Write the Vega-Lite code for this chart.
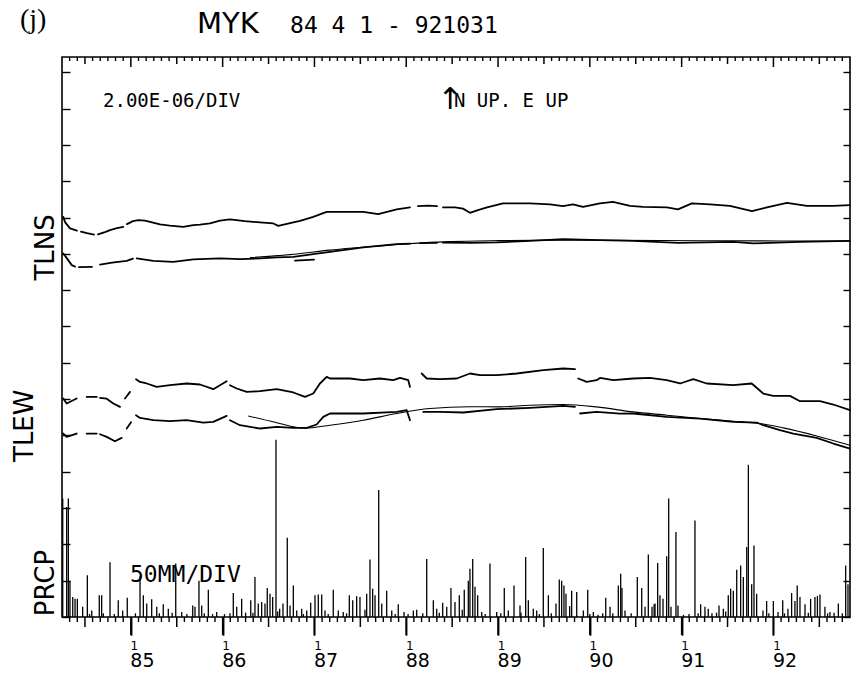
{
  "$schema": "https://vega.github.io/schema/vega-lite/v6.json",
  "width": 788,
  "height": 560,
  "autosize": {"type": "none"},
  "padding": {"left": 62, "top": 57, "right": 6, "bottom": 64},
  "background": "white",
  "config": {
    "view": {"stroke": "black", "strokeWidth": 1.6},
    "font": "DejaVu Sans",
    "axis": {"grid": false, "domain": false, "tickColor": "black", "labelColor": "black", "labelFont": "DejaVu Sans", "title": null, "tickWidth": 1.4}
  },
  "datasets": {
    "tilt": [
      {"seg":"ns1a","yr":1984.264,"v":11.019},{"seg":"ns1a","yr":1984.283,"v":10.873},{"seg":"ns1a","yr":1984.337,"v":10.700},{"seg":"ns1a","yr":1984.413,"v":10.639},
      {"seg":"ns1b","yr":1984.457,"v":10.611},{"seg":"ns1b","yr":1984.522,"v":10.570},{"seg":"ns1b","yr":1984.599,"v":10.529},
      {"seg":"ns1c","yr":1984.642,"v":10.534},{"seg":"ns1c","yr":1984.718,"v":10.598},{"seg":"ns1c","yr":1984.773,"v":10.653},{"seg":"ns1c","yr":1984.849,"v":10.708},{"seg":"ns1c","yr":1984.918,"v":10.744},
      {"seg":"ns1d","yr":1984.958,"v":10.818},{"seg":"ns1d","yr":1985.023,"v":10.901},{"seg":"ns1d","yr":1985.081,"v":10.928},{"seg":"ns1d","yr":1985.154,"v":10.914},{"seg":"ns1d","yr":1985.209,"v":10.881},{"seg":"ns1d","yr":1985.318,"v":10.810},{"seg":"ns1d","yr":1985.426,"v":10.777},{"seg":"ns1d","yr":1985.571,"v":10.744},{"seg":"ns1d","yr":1985.680,"v":10.791},{"seg":"ns1d","yr":1985.753,"v":10.804},{"seg":"ns1d","yr":1985.862,"v":10.837},{"seg":"ns1d","yr":1985.971,"v":10.914},{"seg":"ns1d","yr":1986.080,"v":10.948},{"seg":"ns1d","yr":1986.243,"v":10.901},{"seg":"ns1d","yr":1986.407,"v":10.865},{"seg":"ns1d","yr":1986.552,"v":10.837},{"seg":"ns1d","yr":1986.606,"v":10.771},{"seg":"ns1d","yr":1986.734,"v":10.846},{"seg":"ns1d","yr":1986.843,"v":10.909},{"seg":"ns1d","yr":1986.987,"v":11.019},{"seg":"ns1d","yr":1987.133,"v":11.157},{"seg":"ns1d","yr":1987.333,"v":11.157},{"seg":"ns1d","yr":1987.532,"v":11.157},{"seg":"ns1d","yr":1987.695,"v":11.093},{"seg":"ns1d","yr":1987.896,"v":11.223},{"seg":"ns1d","yr":1988.041,"v":11.278},
      {"seg":"ns1e","yr":1988.128,"v":11.314},{"seg":"ns1e","yr":1988.237,"v":11.328},{"seg":"ns1e","yr":1988.335,"v":11.314},
      {"seg":"ns1f","yr":1988.400,"v":11.278},{"seg":"ns1f","yr":1988.531,"v":11.278},{"seg":"ns1f","yr":1988.618,"v":11.245},{"seg":"ns1f","yr":1988.694,"v":11.129},{"seg":"ns1f","yr":1988.781,"v":11.204},{"seg":"ns1f","yr":1988.880,"v":11.278},{"seg":"ns1f","yr":1989.054,"v":11.388},{"seg":"ns1f","yr":1989.348,"v":11.388},{"seg":"ns1f","yr":1989.566,"v":11.361},{"seg":"ns1f","yr":1989.707,"v":11.314},{"seg":"ns1f","yr":1989.816,"v":11.361},{"seg":"ns1f","yr":1989.925,"v":11.295},{"seg":"ns1f","yr":1990.110,"v":11.388},{"seg":"ns1f","yr":1990.252,"v":11.432},{"seg":"ns1f","yr":1990.437,"v":11.322},{"seg":"ns1f","yr":1990.579,"v":11.295},{"seg":"ns1f","yr":1990.840,"v":11.278},{"seg":"ns1f","yr":1990.960,"v":11.223},{"seg":"ns1f","yr":1991.112,"v":11.388},{"seg":"ns1f","yr":1991.308,"v":11.361},{"seg":"ns1f","yr":1991.526,"v":11.322},{"seg":"ns1f","yr":1991.766,"v":11.176},{"seg":"ns1f","yr":1991.929,"v":11.278},{"seg":"ns1f","yr":1992.147,"v":11.405},{"seg":"ns1f","yr":1992.365,"v":11.322},{"seg":"ns1f","yr":1992.649,"v":11.322},{"seg":"ns1f","yr":1992.834,"v":11.341},

      {"seg":"ns2a","yr":1984.264,"v":10.011},{"seg":"ns2a","yr":1984.294,"v":9.909},{"seg":"ns2a","yr":1984.356,"v":9.689},{"seg":"ns2a","yr":1984.392,"v":9.647},
      {"seg":"ns2b","yr":1984.435,"v":9.634},{"seg":"ns2b","yr":1984.577,"v":9.642},
      {"seg":"ns2c","yr":1984.664,"v":9.702},{"seg":"ns2c","yr":1984.795,"v":9.758},{"seg":"ns2c","yr":1984.955,"v":9.807},{"seg":"ns2c","yr":1985.023,"v":9.868},
      {"seg":"ns2d","yr":1985.064,"v":9.873},{"seg":"ns2d","yr":1985.245,"v":9.807},{"seg":"ns2d","yr":1985.462,"v":9.780},{"seg":"ns2d","yr":1985.680,"v":9.846},{"seg":"ns2d","yr":1985.971,"v":9.873},{"seg":"ns2d","yr":1986.189,"v":9.854},{"seg":"ns2d","yr":1986.407,"v":9.873},{"seg":"ns2d","yr":1986.589,"v":9.901},{"seg":"ns2d","yr":1986.770,"v":9.917},{"seg":"ns2d","yr":1986.987,"v":9.992},{"seg":"ns2d","yr":1987.169,"v":10.055},{"seg":"ns2d","yr":1987.532,"v":10.176},{"seg":"ns2d","yr":1987.896,"v":10.267},{"seg":"ns2d","yr":1988.041,"v":10.281},
      {"seg":"ns2e","yr":1988.150,"v":10.295},{"seg":"ns2e","yr":1988.335,"v":10.303},
      {"seg":"ns2f","yr":1988.400,"v":10.308},{"seg":"ns2f","yr":1988.694,"v":10.303},{"seg":"ns2f","yr":1988.985,"v":10.314},{"seg":"ns2f","yr":1989.348,"v":10.358},{"seg":"ns2f","yr":1989.711,"v":10.405},{"seg":"ns2f","yr":1990.110,"v":10.377},{"seg":"ns2f","yr":1990.473,"v":10.358},{"seg":"ns2f","yr":1990.963,"v":10.303},{"seg":"ns2f","yr":1991.562,"v":10.331},{"seg":"ns2f","yr":1991.780,"v":10.286},{"seg":"ns2f","yr":1992.289,"v":10.331},{"seg":"ns2f","yr":1992.834,"v":10.358},
      {"seg":"ns2g","yr":1986.789,"v":9.813},{"seg":"ns2g","yr":1986.996,"v":9.840},

      {"seg":"ew1a","yr":1984.264,"v":6.016},{"seg":"ew1a","yr":1984.301,"v":5.879},{"seg":"ew1a","yr":1984.410,"v":6.016},
      {"seg":"ew1b","yr":1984.519,"v":6.061},{"seg":"ew1b","yr":1984.628,"v":6.061},
      {"seg":"ew1c","yr":1984.664,"v":6.033},{"seg":"ew1c","yr":1984.737,"v":6.011},{"seg":"ew1c","yr":1984.809,"v":5.879},{"seg":"ew1c","yr":1984.882,"v":5.785},
      {"seg":"ew1d","yr":1984.936,"v":6.016},{"seg":"ew1d","yr":1984.991,"v":6.198},
      {"seg":"ew1e","yr":1985.056,"v":6.548},{"seg":"ew1e","yr":1985.100,"v":6.474},{"seg":"ew1e","yr":1985.173,"v":6.430},{"seg":"ew1e","yr":1985.282,"v":6.336},{"seg":"ew1e","yr":1985.426,"v":6.383},{"seg":"ew1e","yr":1985.608,"v":6.430},{"seg":"ew1e","yr":1985.753,"v":6.402},{"seg":"ew1e","yr":1985.898,"v":6.273},{"seg":"ew1e","yr":1986.044,"v":6.493},
      {"seg":"ew1f","yr":1986.080,"v":6.383},{"seg":"ew1f","yr":1986.153,"v":6.292},{"seg":"ew1f","yr":1986.262,"v":6.198},{"seg":"ew1f","yr":1986.407,"v":6.218},{"seg":"ew1f","yr":1986.589,"v":6.273},{"seg":"ew1f","yr":1986.770,"v":6.182},{"seg":"ew1f","yr":1986.897,"v":6.061},{"seg":"ew1f","yr":1986.987,"v":6.154},{"seg":"ew1f","yr":1987.060,"v":6.430},{"seg":"ew1f","yr":1987.133,"v":6.612},{"seg":"ew1f","yr":1987.169,"v":6.567},{"seg":"ew1f","yr":1987.387,"v":6.567},{"seg":"ew1f","yr":1987.532,"v":6.521},{"seg":"ew1f","yr":1987.714,"v":6.567},{"seg":"ew1f","yr":1987.859,"v":6.521},{"seg":"ew1f","yr":1987.932,"v":6.584},{"seg":"ew1f","yr":1988.022,"v":6.521},{"seg":"ew1f","yr":1988.041,"v":6.336},
      {"seg":"ew1g","yr":1988.168,"v":6.705},{"seg":"ew1g","yr":1988.223,"v":6.567},{"seg":"ew1g","yr":1988.368,"v":6.548},{"seg":"ew1g","yr":1988.550,"v":6.567},{"seg":"ew1g","yr":1988.694,"v":6.705},{"seg":"ew1g","yr":1988.803,"v":6.658},{"seg":"ew1g","yr":1988.985,"v":6.658},{"seg":"ew1g","yr":1989.203,"v":6.705},{"seg":"ew1g","yr":1989.493,"v":6.796},{"seg":"ew1g","yr":1989.711,"v":6.843},{"seg":"ew1g","yr":1989.838,"v":6.824},
      {"seg":"ew1h","yr":1989.874,"v":6.567},{"seg":"ew1h","yr":1989.966,"v":6.474},{"seg":"ew1h","yr":1990.074,"v":6.521},{"seg":"ew1h","yr":1990.110,"v":6.584},{"seg":"ew1h","yr":1990.255,"v":6.521},{"seg":"ew1h","yr":1990.473,"v":6.567},{"seg":"ew1h","yr":1990.655,"v":6.584},{"seg":"ew1h","yr":1990.837,"v":6.521},{"seg":"ew1h","yr":1990.983,"v":6.430},{"seg":"ew1h","yr":1991.127,"v":6.548},{"seg":"ew1h","yr":1991.273,"v":6.430},{"seg":"ew1h","yr":1991.562,"v":6.383},{"seg":"ew1h","yr":1991.763,"v":6.430},{"seg":"ew1h","yr":1991.889,"v":6.154},{"seg":"ew1h","yr":1991.998,"v":6.088},{"seg":"ew1h","yr":1992.180,"v":6.088},{"seg":"ew1h","yr":1992.289,"v":5.942},{"seg":"ew1h","yr":1992.507,"v":5.942},{"seg":"ew1h","yr":1992.652,"v":5.851},{"seg":"ew1h","yr":1992.834,"v":5.694},

      {"seg":"ew2a","yr":1984.264,"v":5.052},{"seg":"ew2a","yr":1984.301,"v":4.959},{"seg":"ew2a","yr":1984.410,"v":5.052},
      {"seg":"ew2b","yr":1984.519,"v":5.052},{"seg":"ew2b","yr":1984.628,"v":5.052},
      {"seg":"ew2c","yr":1984.664,"v":5.033},{"seg":"ew2c","yr":1984.737,"v":4.959},{"seg":"ew2c","yr":1984.827,"v":4.840},{"seg":"ew2c","yr":1984.900,"v":4.931},
      {"seg":"ew2d","yr":1984.955,"v":5.190},{"seg":"ew2d","yr":1985.002,"v":5.364},
      {"seg":"ew2e","yr":1985.056,"v":5.556},{"seg":"ew2e","yr":1985.100,"v":5.482},{"seg":"ew2e","yr":1985.245,"v":5.419},{"seg":"ew2e","yr":1985.426,"v":5.391},{"seg":"ew2e","yr":1985.608,"v":5.419},{"seg":"ew2e","yr":1985.789,"v":5.355},{"seg":"ew2e","yr":1985.898,"v":5.372},{"seg":"ew2e","yr":1986.044,"v":5.537},
      {"seg":"ew2f","yr":1986.080,"v":5.419},{"seg":"ew2f","yr":1986.189,"v":5.281},{"seg":"ew2f","yr":1986.407,"v":5.190},{"seg":"ew2f","yr":1986.589,"v":5.234},{"seg":"ew2f","yr":1986.770,"v":5.207},{"seg":"ew2f","yr":1986.916,"v":5.207},{"seg":"ew2f","yr":1987.024,"v":5.300},{"seg":"ew2f","yr":1987.096,"v":5.510},{"seg":"ew2f","yr":1987.169,"v":5.603},{"seg":"ew2f","yr":1987.532,"v":5.603},{"seg":"ew2f","yr":1987.896,"v":5.647},{"seg":"ew2f","yr":1988.005,"v":5.694},{"seg":"ew2f","yr":1988.041,"v":5.419},
      {"seg":"ew2g","yr":1988.186,"v":5.647},{"seg":"ew2g","yr":1988.368,"v":5.647},{"seg":"ew2g","yr":1988.622,"v":5.631},{"seg":"ew2g","yr":1988.985,"v":5.722},{"seg":"ew2g","yr":1989.348,"v":5.758},{"seg":"ew2g","yr":1989.711,"v":5.813},{"seg":"ew2g","yr":1989.838,"v":5.785},
      {"seg":"ew2h","yr":1989.893,"v":5.603},{"seg":"ew2h","yr":1990.074,"v":5.647},{"seg":"ew2h","yr":1990.328,"v":5.598},{"seg":"ew2h","yr":1990.473,"v":5.603},{"seg":"ew2h","yr":1990.837,"v":5.510},{"seg":"ew2h","yr":1991.200,"v":5.465},{"seg":"ew2h","yr":1991.562,"v":5.372},{"seg":"ew2h","yr":1991.817,"v":5.355},{"seg":"ew2h","yr":1991.889,"v":5.281},{"seg":"ew2h","yr":1992.071,"v":5.143},{"seg":"ew2h","yr":1992.216,"v":5.052},{"seg":"ew2h","yr":1992.471,"v":4.931},{"seg":"ew2h","yr":1992.652,"v":4.777},{"seg":"ew2h","yr":1992.834,"v":4.639}
    ],
    "fit": [
      {"seg":"nsfit","yr":1986.298,"v":9.895},{"seg":"nsfit","yr":1986.734,"v":9.978},{"seg":"nsfit","yr":1987.169,"v":10.102},{"seg":"nsfit","yr":1987.605,"v":10.198},{"seg":"nsfit","yr":1988.041,"v":10.281},{"seg":"nsfit","yr":1988.477,"v":10.336},{"seg":"nsfit","yr":1989.021,"v":10.363},{"seg":"nsfit","yr":1989.675,"v":10.377},{"seg":"nsfit","yr":1990.328,"v":10.372},{"seg":"nsfit","yr":1991.200,"v":10.361},{"seg":"nsfit","yr":1992.071,"v":10.355},{"seg":"nsfit","yr":1992.834,"v":10.355},
      {"seg":"ewfit","yr":1986.279,"v":5.537},{"seg":"ewfit","yr":1986.570,"v":5.364},{"seg":"ewfit","yr":1986.897,"v":5.198},{"seg":"ewfit","yr":1987.169,"v":5.281},{"seg":"ewfit","yr":1987.532,"v":5.419},{"seg":"ewfit","yr":1987.896,"v":5.603},{"seg":"ewfit","yr":1988.259,"v":5.741},{"seg":"ewfit","yr":1988.694,"v":5.791},{"seg":"ewfit","yr":1989.021,"v":5.785},{"seg":"ewfit","yr":1989.348,"v":5.832},{"seg":"ewfit","yr":1989.711,"v":5.851},{"seg":"ewfit","yr":1990.074,"v":5.785},{"seg":"ewfit","yr":1990.473,"v":5.647},{"seg":"ewfit","yr":1990.837,"v":5.556},{"seg":"ewfit","yr":1991.200,"v":5.465},{"seg":"ewfit","yr":1991.562,"v":5.391},{"seg":"ewfit","yr":1991.853,"v":5.328},{"seg":"ewfit","yr":1992.107,"v":5.207},{"seg":"ewfit","yr":1992.471,"v":4.986},{"seg":"ewfit","yr":1992.834,"v":4.730}
    ],
    "prcp": [
      {"yr":1984.258,"p":3.26},{"yr":1984.301,"p":3.03},{"yr":1984.319,"p":3.26},{"yr":1984.337,"p":1.0},{"yr":1984.367,"p":0.55},{"yr":1984.392,"p":0.5},{"yr":1984.417,"p":0.5},{"yr":1984.475,"p":0.28},{"yr":1984.526,"p":1.15},{"yr":1984.55,"p":0.08},{"yr":1984.574,"p":0.18},{"yr":1984.656,"p":0.6},{"yr":1984.682,"p":0.6},{"yr":1984.70,"p":0.1},{"yr":1984.773,"p":1.51},{"yr":1984.82,"p":0.08},{"yr":1984.863,"p":0.46},{"yr":1984.911,"p":0.18},{"yr":1984.961,"p":0.53},
      {"yr":1985.05,"p":0.1},{"yr":1985.100,"p":1.12},{"yr":1985.136,"p":0.6},{"yr":1985.173,"p":0.37},{"yr":1985.227,"p":0.49},{"yr":1985.282,"p":0.28},{"yr":1985.31,"p":0.1},{"yr":1985.353,"p":0.35},{"yr":1985.408,"p":0.23},{"yr":1985.45,"p":0.12},{"yr":1985.489,"p":1.47},{"yr":1985.554,"p":0.14},{"yr":1985.61,"p":0.08},{"yr":1985.674,"p":0.32},{"yr":1985.699,"p":0.28},{"yr":1985.742,"p":1.0},{"yr":1985.772,"p":0.32},{"yr":1985.80,"p":0.1},{"yr":1985.844,"p":0.75},{"yr":1985.89,"p":0.08},{"yr":1985.935,"p":0.14},
      {"yr":1986.02,"p":0.08},{"yr":1986.08,"p":0.1},{"yr":1986.116,"p":0.66},{"yr":1986.153,"p":0.28},{"yr":1986.207,"p":0.5},{"yr":1986.25,"p":0.12},{"yr":1986.306,"p":0.46},{"yr":1986.33,"p":0.12},{"yr":1986.352,"p":1.1},{"yr":1986.388,"p":0.37},{"yr":1986.425,"p":0.41},{"yr":1986.461,"p":0.37},{"yr":1986.486,"p":0.8},{"yr":1986.516,"p":0.64},{"yr":1986.545,"p":0.55},{"yr":1986.581,"p":4.88},{"yr":1986.60,"p":0.15},{"yr":1986.621,"p":0.23},{"yr":1986.657,"p":0.37},{"yr":1986.704,"p":2.18},{"yr":1986.734,"p":0.32},{"yr":1986.770,"p":0.87},{"yr":1986.807,"p":0.18},{"yr":1986.861,"p":0.23},{"yr":1986.88,"p":0.08},{"yr":1986.916,"p":0.18},{"yr":1986.959,"p":0.39},
      {"yr":1987.006,"p":0.6},{"yr":1987.042,"p":0.62},{"yr":1987.079,"p":0.62},{"yr":1987.115,"p":0.18},{"yr":1987.15,"p":0.08},{"yr":1987.205,"p":0.75},{"yr":1987.260,"p":0.18},{"yr":1987.314,"p":0.14},{"yr":1987.35,"p":0.1},{"yr":1987.380,"p":0.6},{"yr":1987.417,"p":0.46},{"yr":1987.460,"p":0.57},{"yr":1987.496,"p":0.55},{"yr":1987.55,"p":0.2},{"yr":1987.569,"p":0.64},{"yr":1987.605,"p":1.58},{"yr":1987.634,"p":0.78},{"yr":1987.660,"p":0.6},{"yr":1987.700,"p":3.5},{"yr":1987.733,"p":0.37},{"yr":1987.787,"p":0.72},{"yr":1987.842,"p":0.18},{"yr":1987.88,"p":0.08},{"yr":1987.913,"p":0.35},{"yr":1987.976,"p":0.14},
      {"yr":1988.02,"p":0.08},{"yr":1988.077,"p":0.18},{"yr":1988.114,"p":0.2},{"yr":1988.18,"p":0.1},{"yr":1988.223,"p":1.6},{"yr":1988.295,"p":0.46},{"yr":1988.332,"p":0.23},{"yr":1988.36,"p":0.12},{"yr":1988.397,"p":0.39},{"yr":1988.441,"p":0.28},{"yr":1988.487,"p":0.8},{"yr":1988.531,"p":0.41},{"yr":1988.578,"p":0.6},{"yr":1988.61,"p":0.2},{"yr":1988.632,"p":0.75},{"yr":1988.676,"p":1.0},{"yr":1988.694,"p":1.33},{"yr":1988.724,"p":1.6},{"yr":1988.749,"p":0.83},{"yr":1988.778,"p":0.6},{"yr":1988.822,"p":0.14},{"yr":1988.86,"p":0.08},{"yr":1988.912,"p":1.47},{"yr":1988.985,"p":0.14},
      {"yr":1989.03,"p":0.1},{"yr":1989.068,"p":0.8},{"yr":1989.112,"p":0.18},{"yr":1989.174,"p":0.87},{"yr":1989.239,"p":0.32},{"yr":1989.25,"p":0.12},{"yr":1989.301,"p":1.65},{"yr":1989.330,"p":0.46},{"yr":1989.384,"p":0.23},{"yr":1989.421,"p":0.18},{"yr":1989.45,"p":0.08},{"yr":1989.493,"p":1.9},{"yr":1989.548,"p":0.6},{"yr":1989.58,"p":0.1},{"yr":1989.631,"p":0.37},{"yr":1989.667,"p":1.03},{"yr":1989.693,"p":1.0},{"yr":1989.718,"p":0.87},{"yr":1989.740,"p":0.64},{"yr":1989.78,"p":0.3},{"yr":1989.802,"p":0.72},{"yr":1989.857,"p":0.69},{"yr":1989.929,"p":0.18},{"yr":1989.977,"p":0.75},
      {"yr":1990.00,"p":0.08},{"yr":1990.038,"p":0.14},{"yr":1990.09,"p":0.06},{"yr":1990.14,"p":0.1},{"yr":1990.173,"p":0.53},{"yr":1990.220,"p":0.28},{"yr":1990.25,"p":0.1},{"yr":1990.310,"p":0.87},{"yr":1990.336,"p":1.19},{"yr":1990.350,"p":0.8},{"yr":1990.383,"p":0.18},{"yr":1990.45,"p":0.1},{"yr":1990.517,"p":1.1},{"yr":1990.565,"p":0.8},{"yr":1990.601,"p":0.28},{"yr":1990.637,"p":1.72},{"yr":1990.677,"p":0.28},{"yr":1990.70,"p":0.35},{"yr":1990.710,"p":0.37},{"yr":1990.739,"p":1.49},{"yr":1990.764,"p":0.6},{"yr":1990.797,"p":0.5},{"yr":1990.837,"p":1.67},{"yr":1990.859,"p":3.26},{"yr":1990.884,"p":0.28},{"yr":1990.938,"p":2.34},{"yr":1990.960,"p":0.32},
      {"yr":1991.02,"p":0.06},{"yr":1991.08,"p":0.08},{"yr":1991.145,"p":2.66},{"yr":1991.18,"p":0.1},{"yr":1991.207,"p":0.35},{"yr":1991.254,"p":0.28},{"yr":1991.290,"p":0.23},{"yr":1991.33,"p":0.1},{"yr":1991.38,"p":0.12},{"yr":1991.407,"p":0.32},{"yr":1991.454,"p":0.23},{"yr":1991.48,"p":0.15},{"yr":1991.508,"p":0.6},{"yr":1991.534,"p":0.78},{"yr":1991.563,"p":0.72},{"yr":1991.600,"p":1.3},{"yr":1991.643,"p":1.42},{"yr":1991.672,"p":1.1},{"yr":1991.709,"p":1.93},{"yr":1991.727,"p":4.19},{"yr":1991.763,"p":0.9},{"yr":1991.788,"p":1.97},{"yr":1991.817,"p":0.64},{"yr":1991.886,"p":0.18},{"yr":1991.926,"p":0.44},{"yr":1991.95,"p":0.1},{"yr":1991.999,"p":0.44},
      {"yr":1992.050,"p":0.14},{"yr":1992.101,"p":0.46},{"yr":1992.12,"p":0.1},{"yr":1992.158,"p":0.23},{"yr":1992.198,"p":0.66},{"yr":1992.234,"p":0.44},{"yr":1992.259,"p":0.87},{"yr":1992.289,"p":0.55},{"yr":1992.344,"p":0.35},{"yr":1992.38,"p":0.12},{"yr":1992.405,"p":0.5},{"yr":1992.452,"p":0.55},{"yr":1992.479,"p":0.58},{"yr":1992.507,"p":0.62},{"yr":1992.561,"p":0.28},{"yr":1992.59,"p":0.1},{"yr":1992.616,"p":0.14},{"yr":1992.66,"p":0.12},{"yr":1992.707,"p":0.37},{"yr":1992.75,"p":0.1},{"yr":1992.787,"p":1.42},{"yr":1992.812,"p":0.9}
    ],
    "tk_y": [{"yr":1985},{"yr":1986},{"yr":1987},{"yr":1988},{"yr":1989},{"yr":1990},{"yr":1991},{"yr":1992}],
    "tk_h": [{"yr":1984.5},{"yr":1985.5},{"yr":1986.5},{"yr":1987.5},{"yr":1988.5},{"yr":1989.5},{"yr":1990.5},{"yr":1991.5},{"yr":1992.5}],
    "tk_m": [
      {"yr":1984.3333},{"yr":1984.4167},{"yr":1984.5833},{"yr":1984.6667},{"yr":1984.75},{"yr":1984.8333},{"yr":1984.9167},
      {"yr":1985.0833},{"yr":1985.1667},{"yr":1985.25},{"yr":1985.3333},{"yr":1985.4167},{"yr":1985.5833},{"yr":1985.6667},{"yr":1985.75},{"yr":1985.8333},{"yr":1985.9167},
      {"yr":1986.0833},{"yr":1986.1667},{"yr":1986.25},{"yr":1986.3333},{"yr":1986.4167},{"yr":1986.5833},{"yr":1986.6667},{"yr":1986.75},{"yr":1986.8333},{"yr":1986.9167},
      {"yr":1987.0833},{"yr":1987.1667},{"yr":1987.25},{"yr":1987.3333},{"yr":1987.4167},{"yr":1987.5833},{"yr":1987.6667},{"yr":1987.75},{"yr":1987.8333},{"yr":1987.9167},
      {"yr":1988.0833},{"yr":1988.1667},{"yr":1988.25},{"yr":1988.3333},{"yr":1988.4167},{"yr":1988.5833},{"yr":1988.6667},{"yr":1988.75},{"yr":1988.8333},{"yr":1988.9167},
      {"yr":1989.0833},{"yr":1989.1667},{"yr":1989.25},{"yr":1989.3333},{"yr":1989.4167},{"yr":1989.5833},{"yr":1989.6667},{"yr":1989.75},{"yr":1989.8333},{"yr":1989.9167},
      {"yr":1990.0833},{"yr":1990.1667},{"yr":1990.25},{"yr":1990.3333},{"yr":1990.4167},{"yr":1990.5833},{"yr":1990.6667},{"yr":1990.75},{"yr":1990.8333},{"yr":1990.9167},
      {"yr":1991.0833},{"yr":1991.1667},{"yr":1991.25},{"yr":1991.3333},{"yr":1991.4167},{"yr":1991.5833},{"yr":1991.6667},{"yr":1991.75},{"yr":1991.8333},{"yr":1991.9167},
      {"yr":1992.0833},{"yr":1992.1667},{"yr":1992.25},{"yr":1992.3333},{"yr":1992.4167},{"yr":1992.5833},{"yr":1992.6667},{"yr":1992.75}
    ],
    "notes": [
      {"yr":1984.697,"v":14.21,"text":"2.00E-06/DIV"},
      {"yr":1988.52,"v":14.21,"text":"N UP. E UP"}
    ],
    "note2": [{"yr":1984.991,"v":1.15,"text":"50MM/DIV"}],
    "arrow": [{"yr":1988.477,"v":14.24,"text":"↑"}],
    "head1": [{"yr":1983.792,"v":16.22,"text":"(j)"}],
    "head2": [{"yr":1985.721,"v":16.08,"text":"MYK"}],
    "head3": [{"yr":1986.734,"v":16.08,"text":"84 4 1 - 921031"}]
  },
  "layer": [
    {
      "data": {"name": "tilt"},
      "mark": {"type": "line", "color": "black", "strokeWidth": 1.8, "strokeJoin": "round", "strokeCap": "round"},
      "encoding": {
        "x": {"field": "yr", "type": "quantitative",
          "scale": {"domain": [1984.25, 1992.834], "nice": false, "zero": false},
          "axis": {"orient": "bottom", "values": [1985,1986,1987,1988,1989,1990,1991,1992], "tickSize": 18, "tickColor": "black", "tickWidth": 1.5,
            "labelExpr": "format(round(datum.value) % 100, 'd')",
            "labelAlign": "left", "labelBaseline": "top", "labelFontSize": 19, "labelPadding": 16, "labelOffset": -1,
            "labelFlush": false, "labelOverlap": false}
        },
        "y": {"field": "v", "type": "quantitative",
          "scale": {"domain": [0, 15.42], "nice": false, "zero": false},
          "axis": {"orient": "left", "values": [0,1,2,3,4,5,6,7,8,9,10,11,12,13,14,15], "tickSize": -8, "labels": false}
        },
        "detail": {"field": "seg"}
      }
    },
    {
      "data": {"name": "prcp"},
      "mark": {"type": "rule", "color": "black", "strokeWidth": 1.3},
      "encoding": {
        "x": {"field": "yr", "type": "quantitative", "scale": {"domain": [1984.25, 1992.834], "nice": false, "zero": false}, "axis": null},
        "y": {"field": "p", "type": "quantitative",
          "scale": {"domain": [0, 15.42], "nice": false, "zero": false},
          "axis": {"orient": "right", "values": [0,1,2,3,4,5,6,7,8,9,10,11,12,13,14,15], "tickSize": -7, "labels": false}
        },
        "y2": {"datum": 0}
      }
    },
    {
      "data": {"name": "fit"},
      "mark": {"type": "line", "color": "black", "strokeWidth": 1.1, "interpolate": "monotone"},
      "encoding": {
        "x": {"field": "yr", "type": "quantitative", "scale": {"domain": [1984.25, 1992.834], "nice": false, "zero": false}, "axis": null},
        "y": {"field": "v", "type": "quantitative", "scale": {"domain": [0, 15.42], "nice": false, "zero": false}, "axis": null},
        "detail": {"field": "seg"}
      }
    },
    {
      "data": {"name": "tk_y"},
      "mark": {"type": "rule", "color": "black", "strokeWidth": 1.5},
      "encoding": {
        "x": {"field": "yr", "type": "quantitative", "scale": {"domain": [1984.25, 1992.834], "nice": false, "zero": false}, "axis": null},
        "y": {"datum": 0, "type": "quantitative", "scale": {"domain": [0, 15.42], "nice": false, "zero": false}, "axis": null},
        "y2": {"datum": -0.4956}
      }
    },
    {
      "data": {"name": "tk_h"},
      "mark": {"type": "rule", "color": "black", "strokeWidth": 1.5},
      "encoding": {
        "x": {"field": "yr", "type": "quantitative", "scale": {"domain": [1984.25, 1992.834], "nice": false, "zero": false}, "axis": null},
        "y": {"datum": 0, "type": "quantitative", "scale": {"domain": [0, 15.42], "nice": false, "zero": false}, "axis": null},
        "y2": {"datum": -0.2754}
      }
    },
    {
      "data": {"name": "tk_m"},
      "mark": {"type": "rule", "color": "black", "strokeWidth": 1.4},
      "encoding": {
        "x": {"field": "yr", "type": "quantitative", "scale": {"domain": [1984.25, 1992.834], "nice": false, "zero": false}, "axis": null},
        "y": {"datum": 0, "type": "quantitative", "scale": {"domain": [0, 15.42], "nice": false, "zero": false}, "axis": null},
        "y2": {"datum": -0.1377}
      }
    },
    {
      "data": {"name": "tk_y"},
      "mark": {"type": "rule", "color": "black", "strokeWidth": 1.5},
      "encoding": {
        "x": {"field": "yr", "type": "quantitative", "scale": {"domain": [1984.25, 1992.834], "nice": false, "zero": false}, "axis": null},
        "y": {"datum": 15.42, "type": "quantitative", "scale": {"domain": [0, 15.42], "nice": false, "zero": false}, "axis": null},
        "y2": {"datum": 15.1446}
      }
    },
    {
      "data": {"name": "tk_h"},
      "mark": {"type": "rule", "color": "black", "strokeWidth": 1.5},
      "encoding": {
        "x": {"field": "yr", "type": "quantitative", "scale": {"domain": [1984.25, 1992.834], "nice": false, "zero": false}, "axis": null},
        "y": {"datum": 15.42, "type": "quantitative", "scale": {"domain": [0, 15.42], "nice": false, "zero": false}, "axis": null},
        "y2": {"datum": 15.2272}
      }
    },
    {
      "data": {"name": "tk_m"},
      "mark": {"type": "rule", "color": "black", "strokeWidth": 1.4},
      "encoding": {
        "x": {"field": "yr", "type": "quantitative", "scale": {"domain": [1984.25, 1992.834], "nice": false, "zero": false}, "axis": null},
        "y": {"datum": 15.42, "type": "quantitative", "scale": {"domain": [0, 15.42], "nice": false, "zero": false}, "axis": null},
        "y2": {"datum": 15.3099}
      }
    },
    {
      "data": {"name": "notes"},
      "mark": {"type": "text", "align": "left", "baseline": "middle", "fontSize": 19, "color": "black", "font": "DejaVu Sans Mono"},
      "encoding": {
        "x": {"field": "yr", "type": "quantitative",
          "scale": {"domain": [1984.25, 1992.834], "nice": false, "zero": false},
          "axis": {"orient": "bottom", "values": [1985,1986,1987,1988,1989,1990,1991,1992], "tickSize": 18, "tickColor": "black", "tickWidth": 1.5,
            "labelExpr": "'1'", "labelFontSize": 12, "labelAlign": "center", "labelBaseline": "top", "labelPadding": 5, "labelOffset": 3, "labelFlush": false, "labelOverlap": false}
        },
        "y": {"field": "v", "type": "quantitative",
          "scale": {"domain": [0, 15.42], "nice": false, "zero": false},
          "axis": {"orient": "left", "values": [10.19, 5.28, 0.95], "ticks": false,
            "labelExpr": "datum.value > 9 ? 'TLNS' : (datum.value > 4 ? 'TLEW' : 'PRCP')",
            "labelAngle": 270, "labelAlign": "center", "labelBaseline": "alphabetic", "labelFontSize": 26,
            "labelPadding": {"condition": {"test": "datum.value > 4 && datum.value < 9", "value": 30}, "value": 9},
            "labelOverlap": false, "labelFlush": false}
        },
        "text": {"field": "text"}
      }
    },
    {
      "data": {"name": "note2"},
      "mark": {"type": "text", "align": "left", "baseline": "middle", "fontSize": 23, "color": "black", "font": "DejaVu Sans Mono"},
      "encoding": {
        "x": {"field": "yr", "type": "quantitative", "scale": {"domain": [1984.25, 1992.834], "nice": false, "zero": false}, "axis": null},
        "y": {"field": "v", "type": "quantitative", "scale": {"domain": [0, 15.42], "nice": false, "zero": false}, "axis": null},
        "text": {"field": "text"}
      }
    },
    {
      "data": {"name": "arrow"},
      "mark": {"type": "text", "align": "center", "baseline": "middle", "fontSize": 30, "color": "black", "font": "DejaVu Sans"},
      "encoding": {
        "x": {"field": "yr", "type": "quantitative", "scale": {"domain": [1984.25, 1992.834], "nice": false, "zero": false}, "axis": null},
        "y": {"field": "v", "type": "quantitative", "scale": {"domain": [0, 15.42], "nice": false, "zero": false}, "axis": null},
        "text": {"field": "text"}
      }
    },
    {
      "data": {"name": "head1"},
      "mark": {"type": "text", "align": "left", "baseline": "alphabetic", "fontSize": 28, "color": "black", "font": "Liberation Serif"},
      "encoding": {
        "x": {"field": "yr", "type": "quantitative", "scale": {"domain": [1984.25, 1992.834], "nice": false, "zero": false}, "axis": null},
        "y": {"field": "v", "type": "quantitative", "scale": {"domain": [0, 15.42], "nice": false, "zero": false}, "axis": null},
        "text": {"field": "text"}
      }
    },
    {
      "data": {"name": "head2"},
      "mark": {"type": "text", "align": "left", "baseline": "alphabetic", "fontSize": 29, "color": "black", "font": "DejaVu Sans"},
      "encoding": {
        "x": {"field": "yr", "type": "quantitative", "scale": {"domain": [1984.25, 1992.834], "nice": false, "zero": false}, "axis": null},
        "y": {"field": "v", "type": "quantitative", "scale": {"domain": [0, 15.42], "nice": false, "zero": false}, "axis": null},
        "text": {"field": "text"}
      }
    },
    {
      "data": {"name": "head3"},
      "mark": {"type": "text", "align": "left", "baseline": "alphabetic", "fontSize": 23, "color": "black", "font": "DejaVu Sans Mono"},
      "encoding": {
        "x": {"field": "yr", "type": "quantitative", "scale": {"domain": [1984.25, 1992.834], "nice": false, "zero": false}, "axis": null},
        "y": {"field": "v", "type": "quantitative", "scale": {"domain": [0, 15.42], "nice": false, "zero": false}, "axis": null},
        "text": {"field": "text"}
      }
    }
  ],
  "resolve": {"scale": {"x": "independent", "y": "independent"}, "axis": {"x": "independent", "y": "independent"}}
}
